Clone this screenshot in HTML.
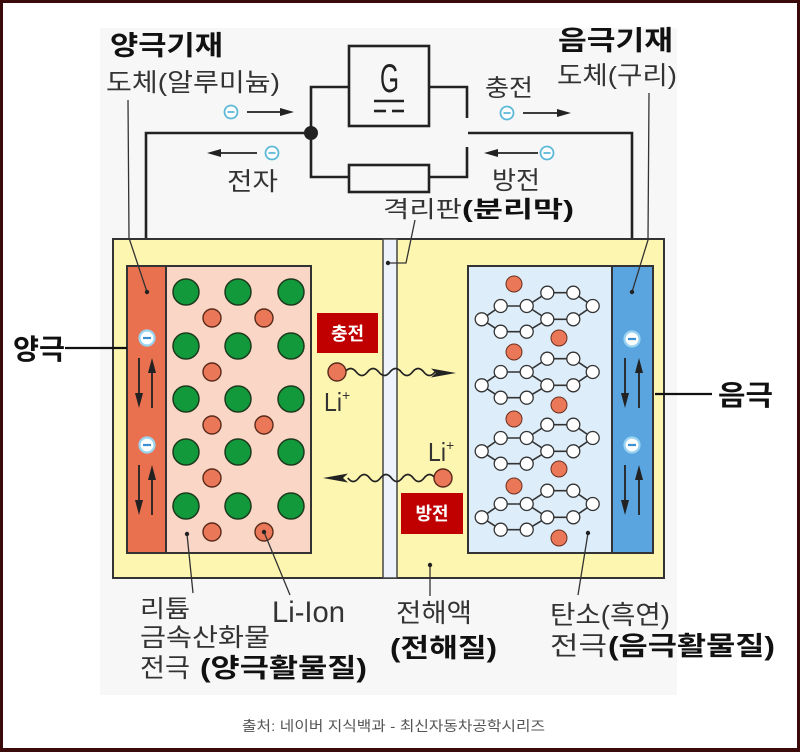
<!DOCTYPE html>
<html><head><meta charset="utf-8"><style>
html,body{margin:0;padding:0;background:#fff;}
body{width:800px;height:752px;overflow:hidden;position:relative;}
svg{position:absolute;left:0;top:0;}
text{font-family:"Liberation Sans","Noto Sans CJK KR",sans-serif;}
.r{fill:#333;font-weight:400;}
.b{fill:#111;font-weight:700;}
</style></head><body>
<svg width="800" height="752" viewBox="0 0 800 752" xmlns="http://www.w3.org/2000/svg">
<defs>
<g id="layer" stroke="#333">
<g stroke-width="1.6" fill="none">
<polyline points="481.7,319.3 500.7,306 526.7,306 547.3,319.3 526.7,331.7 500.7,331.7 481.7,319.3"/>
<polyline points="526.7,306 547.3,292.7 573.3,292.7 592.7,306 573.3,319.3 547.3,319.3"/>
</g>
<g fill="#fff" stroke-width="1.3">
<circle cx="481.7" cy="319.3" r="6.5"/><circle cx="500.7" cy="306" r="6.5"/><circle cx="526.7" cy="306" r="6.5"/>
<circle cx="547.3" cy="319.3" r="6.5"/><circle cx="526.7" cy="331.7" r="6.5"/><circle cx="500.7" cy="331.7" r="6.5"/>
<circle cx="547.3" cy="292.7" r="6.5"/><circle cx="573.3" cy="292.7" r="6.5"/><circle cx="592.7" cy="306" r="6.5"/>
<circle cx="573.3" cy="319.3" r="6.5"/>
</g>
</g>
<g id="em">
<circle r="6.5" fill="#fff" stroke="#5db8d8" stroke-width="1.8"/>
<line x1="-3.5" y1="0" x2="3.5" y2="0" stroke="#5db8d8" stroke-width="1.8"/>
</g>
<g id="ec">
<circle r="7.5" fill="#fff" stroke="#9ad4f0" stroke-width="2.2"/>
<line x1="-4" y1="0" x2="4" y2="0" stroke="#3d8fd0" stroke-width="2.2"/>
</g>
</defs>

<!-- frame -->
<rect x="0" y="0" width="800" height="752" fill="#3b0b0b"/>
<rect x="3" y="3" width="794" height="745" fill="#fff"/>
<rect x="100" y="28" width="577" height="667" fill="#f7f7f7"/>

<!-- circuit -->
<g stroke="#222" stroke-width="2.6" fill="none">
<rect x="349" y="46" width="80" height="80"/>
<rect x="349" y="165" width="80" height="27"/>
<polyline points="349,87 311,87 311,177 349,177"/>
<polyline points="429,87 467,87 467,118"/>
<polyline points="429,177 467,177 467,147"/>
<polyline points="311,133 146,133 146,266"/>
<polyline points="468,133 632,133 632,266"/>
<line x1="374" y1="101" x2="404" y2="101"/>
<line x1="374" y1="111" x2="386" y2="111"/>
<line x1="392" y1="111" x2="404" y2="111"/>
</g>
<circle cx="311" cy="133" r="7" fill="#222"/>
<text x="380" y="92" font-size="40" fill="#222" textLength="19" lengthAdjust="spacingAndGlyphs" style="font-family:'Liberation Sans',sans-serif;font-weight:400">G</text>

<!-- electron arrows -->
<use href="#em" x="231" y="112"/>
<line x1="247" y1="112" x2="282" y2="112" stroke="#222" stroke-width="1.8"/>
<polygon points="294,112 280,108 280,116" fill="#222"/>
<use href="#em" x="272" y="153"/>
<line x1="257" y1="153" x2="220" y2="153" stroke="#222" stroke-width="1.8"/>
<polygon points="207,153 221,149 221,157" fill="#222"/>
<use href="#em" x="507" y="113"/>
<line x1="523" y1="113" x2="559" y2="113" stroke="#222" stroke-width="1.8"/>
<polygon points="571,113 557,109 557,117" fill="#222"/>
<use href="#em" x="547" y="153"/>
<line x1="538" y1="153" x2="497" y2="153" stroke="#222" stroke-width="1.8"/>
<polygon points="484,153 498,149 498,157" fill="#222"/>

<!-- top labels -->
<text class="b" x="110" y="55" font-size="27" textLength="113" lengthAdjust="spacingAndGlyphs">양극기재</text>
<text class="r" x="106" y="91" font-size="25" textLength="174" lengthAdjust="spacingAndGlyphs">도체(알루미늄)</text>
<text class="b" x="558" y="50" font-size="27" textLength="115" lengthAdjust="spacingAndGlyphs">음극기재</text>
<text class="r" x="557" y="84" font-size="25" textLength="120" lengthAdjust="spacingAndGlyphs">도체(구리)</text>
<text class="r" x="485" y="96" font-size="24" textLength="48" lengthAdjust="spacingAndGlyphs">충전</text>
<text class="r" x="492" y="189" font-size="25" textLength="48" lengthAdjust="spacingAndGlyphs">방전</text>
<text class="r" x="227" y="190" font-size="25" textLength="51" lengthAdjust="spacingAndGlyphs">전자</text>
<text class="r" x="383" y="217" font-size="23" textLength="79" lengthAdjust="spacingAndGlyphs">격리판</text>
<text class="b" x="462" y="217" font-size="23" textLength="112" lengthAdjust="spacingAndGlyphs">(분리막)</text>

<!-- cell -->
<rect x="113" y="239" width="551" height="339" fill="#fdf6b0" stroke="#333" stroke-width="2"/>
<rect x="383" y="239" width="14" height="339" fill="#eef3fb" stroke="#444" stroke-width="1.5"/>
<!-- left electrode -->
<rect x="166" y="266" width="145" height="287" fill="#f9d6c6" stroke="#333" stroke-width="2"/>
<rect x="127" y="266" width="39" height="287" fill="#e9714f" stroke="#333" stroke-width="2"/>
<!-- right electrode -->
<rect x="468" y="266" width="144" height="287" fill="#ddeefa" stroke="#333" stroke-width="2"/>
<rect x="612" y="266" width="41" height="287" fill="#5aa5df" stroke="#333" stroke-width="2"/>

<!-- green balls -->
<g fill="#12993c" stroke="#1d3a1d" stroke-width="1.5">
<circle cx="186" cy="292" r="13"/><circle cx="238" cy="292" r="13"/><circle cx="291" cy="292" r="13"/>
<circle cx="186" cy="346" r="13"/><circle cx="238" cy="346" r="13"/><circle cx="291" cy="346" r="13"/>
<circle cx="186" cy="399" r="13"/><circle cx="238" cy="399" r="13"/><circle cx="291" cy="399" r="13"/>
<circle cx="186" cy="452" r="13"/><circle cx="238" cy="452" r="13"/><circle cx="291" cy="452" r="13"/>
<circle cx="186" cy="506" r="13"/><circle cx="238" cy="506" r="13"/><circle cx="291" cy="506" r="13"/>
</g>
<g fill="#ea7757" stroke="#5a2a1a" stroke-width="1.4">
<circle cx="212" cy="318" r="9"/><circle cx="264" cy="318" r="9"/>
<circle cx="212" cy="372" r="9"/>
<circle cx="212" cy="425" r="9"/><circle cx="264" cy="425" r="9"/>
<circle cx="212" cy="478" r="9"/>
<circle cx="212" cy="532" r="9"/><circle cx="264" cy="532" r="9"/>
</g>

<!-- graphite -->
<use href="#layer"/>
<use href="#layer" y="66"/>
<use href="#layer" y="132"/>
<use href="#layer" y="198"/>
<g fill="#ea7757" stroke="#6a3020" stroke-width="1">
<circle cx="514" cy="284" r="8"/><circle cx="559" cy="338" r="8"/>
<circle cx="514" cy="352" r="8"/><circle cx="559" cy="405" r="8"/>
<circle cx="514" cy="419" r="8"/><circle cx="559" cy="469" r="8"/>
<circle cx="514" cy="486" r="8"/><circle cx="559" cy="538" r="8"/>
</g>

<!-- collector e- and arrows -->
<use href="#ec" x="147" y="338"/>
<use href="#ec" x="147" y="445"/>
<use href="#ec" x="632" y="339"/>
<use href="#ec" x="632" y="445"/>
<g stroke="#222" stroke-width="1.8" fill="#222">
<line x1="139" y1="358" x2="139" y2="396"/><polygon points="135,393 143,393 139,408" stroke="none"/>
<line x1="152" y1="370" x2="152" y2="408"/><polygon points="148,373 156,373 152,358" stroke="none"/>
<line x1="139" y1="465" x2="139" y2="503"/><polygon points="135,500 143,500 139,515" stroke="none"/>
<line x1="152" y1="477" x2="152" y2="515"/><polygon points="148,480 156,480 152,465" stroke="none"/>
<line x1="625" y1="358" x2="625" y2="396"/><polygon points="621,393 629,393 625,408" stroke="none"/>
<line x1="639" y1="370" x2="639" y2="408"/><polygon points="635,373 643,373 639,358" stroke="none"/>
<line x1="625" y1="465" x2="625" y2="503"/><polygon points="621,500 629,500 625,515" stroke="none"/>
<line x1="639" y1="477" x2="639" y2="515"/><polygon points="635,480 643,480 639,465" stroke="none"/>
</g>

<!-- side labels -->
<line x1="65" y1="348" x2="127" y2="348" stroke="#111" stroke-width="2.2"/>
<text class="b" x="13" y="359" font-size="28" textLength="52" lengthAdjust="spacingAndGlyphs">양극</text>
<line x1="655" y1="394" x2="712" y2="394" stroke="#111" stroke-width="2.2"/>
<text class="b" x="718" y="405" font-size="28" textLength="55" lengthAdjust="spacingAndGlyphs">음극</text>

<!-- middle: Li+ transport -->
<rect x="317" y="313" width="61" height="40" fill="#c00000"/>
<text x="347.5" y="340" font-size="18" fill="#fff" font-weight="700" text-anchor="middle">충전</text>
<rect x="401" y="493" width="62" height="41" fill="#c00000"/>
<text x="432" y="520" font-size="18" fill="#fff" font-weight="700" text-anchor="middle">방전</text>
<path d="M345,372 q5.6,-7 11.25,0 t11.25,0 t11.25,0 t11.25,0 t11.25,0 t11.25,0 t11.25,0 t11.25,0" fill="none" stroke="#222" stroke-width="1.7"/>
<polygon points="456,373 431,368.5 436,373 431,377.5" fill="#222"/>
<path d="M435,478 q-5.4,-7 -10.9,0 t-10.9,0 t-10.9,0 t-10.9,0 t-10.9,0 t-10.9,0 t-10.9,0 t-10.9,0" fill="none" stroke="#222" stroke-width="1.7"/>
<polygon points="323,478 348,473.5 343,478 348,482.5" fill="#222"/>
<circle cx="337" cy="372" r="9" fill="#ea7757" stroke="#5a2a1a" stroke-width="1.4"/>
<circle cx="443" cy="478" r="9" fill="#ea7757" stroke="#5a2a1a" stroke-width="1.4"/>
<text x="324" y="411" font-size="26" fill="#333" textLength="18" lengthAdjust="spacingAndGlyphs">Li</text>
<text x="342" y="400" font-size="14" fill="#333">+</text>
<text x="428" y="461" font-size="26" fill="#333" textLength="18" lengthAdjust="spacingAndGlyphs">Li</text>
<text x="446" y="450" font-size="14" fill="#333">+</text>

<!-- leaders -->
<g stroke="#333" stroke-width="1.3" fill="none">
<polyline points="128,100 129,238 147,292"/>
<polyline points="649,93 648,240 632,292"/>
<polyline points="415,220 406,263 388,263"/>
<line x1="187" y1="534" x2="193" y2="593"/>
<line x1="264" y1="532" x2="290" y2="595"/>
<line x1="430" y1="565" x2="430" y2="596"/>
<line x1="588" y1="533" x2="578" y2="595"/>
</g>
<g fill="#222">
<circle cx="147" cy="292" r="2.2"/><circle cx="632" cy="292" r="2.2"/><circle cx="388" cy="263" r="2.2"/>
<circle cx="187" cy="534" r="2.2"/><circle cx="264" cy="532" r="2.2"/><circle cx="430" cy="565" r="2.2"/><circle cx="588" cy="533" r="2.2"/>
</g>

<!-- bottom labels -->
<text class="r" x="140" y="617" font-size="24" textLength="50" lengthAdjust="spacingAndGlyphs">리튬</text>
<text class="r" x="140" y="646" font-size="25" textLength="130" lengthAdjust="spacingAndGlyphs">금속산화물</text>
<text class="r" x="140" y="677" font-size="26" textLength="50" lengthAdjust="spacingAndGlyphs">전극</text>
<text class="b" x="200" y="677" font-size="26" textLength="167" lengthAdjust="spacingAndGlyphs">(양극활물질)</text>
<text class="r" x="272" y="622" font-size="30" textLength="73" lengthAdjust="spacingAndGlyphs" style="font-family:'Liberation Sans',sans-serif">Li-Ion</text>
<text class="r" x="396" y="622" font-size="26" textLength="76" lengthAdjust="spacingAndGlyphs">전해액</text>
<text class="b" x="390" y="657" font-size="26" textLength="107" lengthAdjust="spacingAndGlyphs">(전해질)</text>
<text class="r" x="550" y="624" font-size="26" textLength="120" lengthAdjust="spacingAndGlyphs">탄소(흑연)</text>
<text class="r" x="550" y="655" font-size="26" textLength="57" lengthAdjust="spacingAndGlyphs">전극</text>
<text class="b" x="608" y="655" font-size="26" textLength="167" lengthAdjust="spacingAndGlyphs">(음극활물질)</text>

<text x="242" y="731" font-size="14" fill="#555" textLength="303" lengthAdjust="spacingAndGlyphs">출처: 네이버 지식백과 - 최신자동차공학시리즈</text>
</svg>
</body></html>
